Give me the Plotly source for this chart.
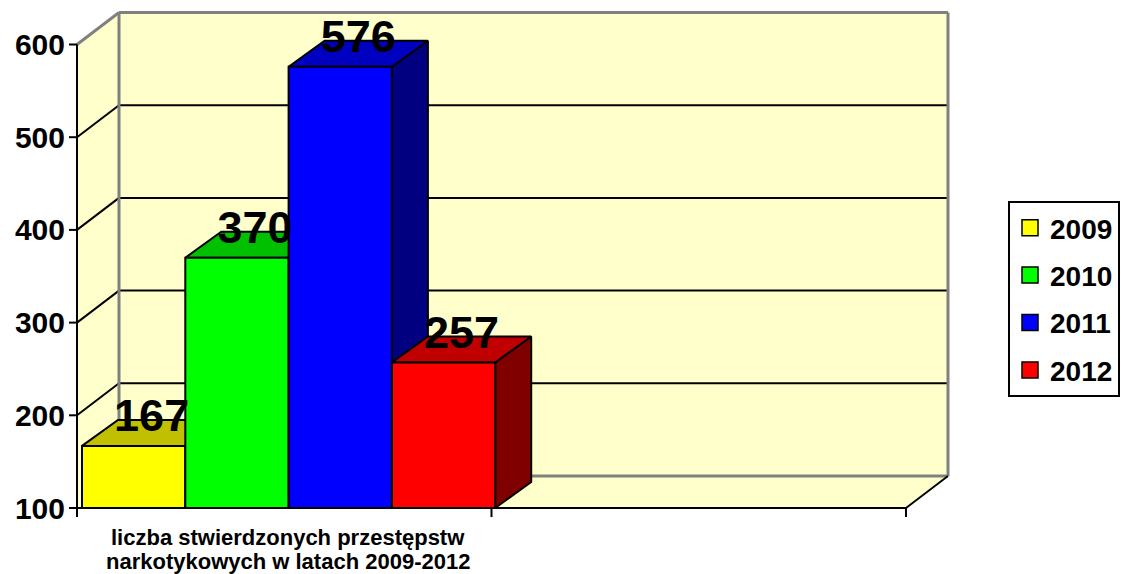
import plotly.graph_objects as go

# ---------------- data ----------------
series_names = ["2009", "2010", "2011", "2012"]
series_values = [167, 370, 576, 257]
category_label_lines = ["liczba stwierdzonych przestępstw", "narkotykowych w latach 2009-2012"]
y_tick_values = [100, 200, 300, 400, 500, 600]

# ---------------- styles ----------------
front_colors = ["#FFFF00", "#00FF00", "#0000FF", "#FF0000"]
top_colors = ["#C0C000", "#00C000", "#0000C0", "#C00000"]
side_colors = ["#808000", "#008000", "#000080", "#800000"]
WALL = "#FFFFCC"
GRAY = "#808080"
FONT = "Liberation Sans, Arial, sans-serif"

W, H = 1121, 574
SX = 414.5          # px per category unit
SY = 0.927          # px per value unit
X0_PX, Y0_PX = 77, 508
BASE = 100
N_CATS = 2
Y_TOP = 600

DXW, DYW = 42 / SX, 32 / SY      # wall depth
BDX, BDY = 36 / SX, 26 / SY      # bar depth
BAR_W = 103.3 / SX
BAR_OFF = 5 / SX
TICK_Y = 8 / SX
TICK_X = 9 / SY

PL, PR, PT, PB = 66, 956, 4, 524
xr = [(PL - X0_PX) / SX, (PR - X0_PX) / SX]
yr = [BASE - (PB - Y0_PX) / SY, BASE + (Y0_PX - PT) / SY]

fig = go.Figure()


def poly(xs, ys, fill, line_color=None, lw=0):
    fig.add_trace(go.Scatter(
        x=xs + [xs[0]], y=ys + [ys[0]], mode="lines", fill="toself",
        fillcolor=fill, line=dict(color=line_color or fill, width=lw),
        hoverinfo="skip", showlegend=False))


def lines(segs, color, lw):
    xs, ys = [], []
    for (xa, ya, xb, yb) in segs:
        xs += [xa, xb, None]
        ys += [ya, yb, None]
    fig.add_trace(go.Scatter(x=xs, y=ys, mode="lines", line=dict(color=color, width=lw),
                             hoverinfo="skip", showlegend=False))


XE = N_CATS
YT = Y_TOP
# walls
poly([0, DXW, DXW, 0], [BASE, BASE + DYW, YT + DYW, YT], WALL)
poly([DXW, XE + DXW, XE + DXW, DXW], [BASE + DYW, BASE + DYW, YT + DYW, YT + DYW], WALL)
poly([0, XE, XE + DXW, DXW], [BASE, BASE, BASE + DYW, BASE + DYW], WALL)

# gridlines
grid = []
for v in y_tick_values[1:-1]:
    grid.append((DXW, v + DYW, XE + DXW, v + DYW))
    grid.append((0, v, DXW, v + DYW))
lines(grid, "black", 2)

# gray wall outline
lines([(0, YT, DXW, YT + DYW), (DXW, YT + DYW, XE + DXW, YT + DYW),
       (XE + DXW, YT + DYW, XE + DXW, BASE + DYW), (DXW, BASE + DYW, XE + DXW, BASE + DYW),
       (DXW, BASE + DYW, DXW, YT + DYW)], GRAY, 3)

# bars
for i, v in enumerate(series_values):
    x0 = BAR_OFF + i * BAR_W
    x1 = x0 + BAR_W
    poly([x1, x1 + BDX, x1 + BDX, x1], [BASE, BASE + BDY, v + BDY, v], side_colors[i], "black", 2)
    poly([x0, x1, x1 + BDX, x0 + BDX], [v, v, v + BDY, v + BDY], top_colors[i], "black", 2)
    poly([x0, x1, x1, x0], [BASE, BASE, v, v], front_colors[i], "black", 2)

# axes
axis_segs = [(0, BASE, 0, YT), (0, BASE, XE, BASE), (XE, BASE, XE + DXW, BASE + DYW)]
for v in y_tick_values:
    axis_segs.append((-TICK_Y, v, 0, v))
for k in range(N_CATS + 1):
    axis_segs.append((k, BASE, k, BASE - TICK_X))
lines(axis_segs, "black", 2)

# data labels
fig.add_trace(go.Scatter(
    x=[BAR_OFF + (i + 0.5) * BAR_W + BDX / 2 for i in range(len(series_values))],
    y=[v + BDY for v in series_values],
    text=[str(v) for v in series_values], mode="text", textposition="middle center",
    textfont=dict(family=FONT, size=45, color="black", weight="bold"),
    hoverinfo="skip", showlegend=False, cliponaxis=False))

# legend proxies
for i, name in enumerate(series_names):
    fig.add_trace(go.Scatter(
        x=[None], y=[None], mode="markers", name=name, legendgroup=name,
        marker=dict(symbol="square", size=18, color=front_colors[i],
                    line=dict(color="black", width=1.5))))

# category label (two lines under the first category)
for j, line in enumerate(category_label_lines):
    py = 537 + 24 * j
    fig.add_annotation(x=0.5 + 4 / SX, y=(PB - py) / (PB - PT), xref="x", yref="paper",
                       yanchor="middle", text=line, showarrow=False,
                       font=dict(family=FONT, size=22, color="black", weight="bold"))

fig.update_layout(
    width=W, height=H, margin=dict(l=PL, r=W - PR, t=PT, b=H - PB),
    paper_bgcolor="white", plot_bgcolor="rgba(0,0,0,0)",
    xaxis=dict(range=xr, showgrid=False, zeroline=False, showline=False,
               showticklabels=False, ticks="", fixedrange=True),
    yaxis=dict(range=yr, showgrid=False, zeroline=False, showline=False,
               tickvals=y_tick_values, ticks="", ticklabelstandoff=0,
               tickfont=dict(family=FONT, size=30, color="black", weight="bold"),
               fixedrange=True),
    legend=dict(xref="container", yref="container", x=1008 / W, y=1 - 201 / H,
                xanchor="left", yanchor="top", bordercolor="black", borderwidth=2,
                bgcolor="white", tracegroupgap=8,
                font=dict(family=FONT, size=28, color="black", weight="bold")),
    showlegend=True,
)

fig.write_html("out.html", config={"displayModeBar": False},
               post_script="document.body.style.margin='0';")
